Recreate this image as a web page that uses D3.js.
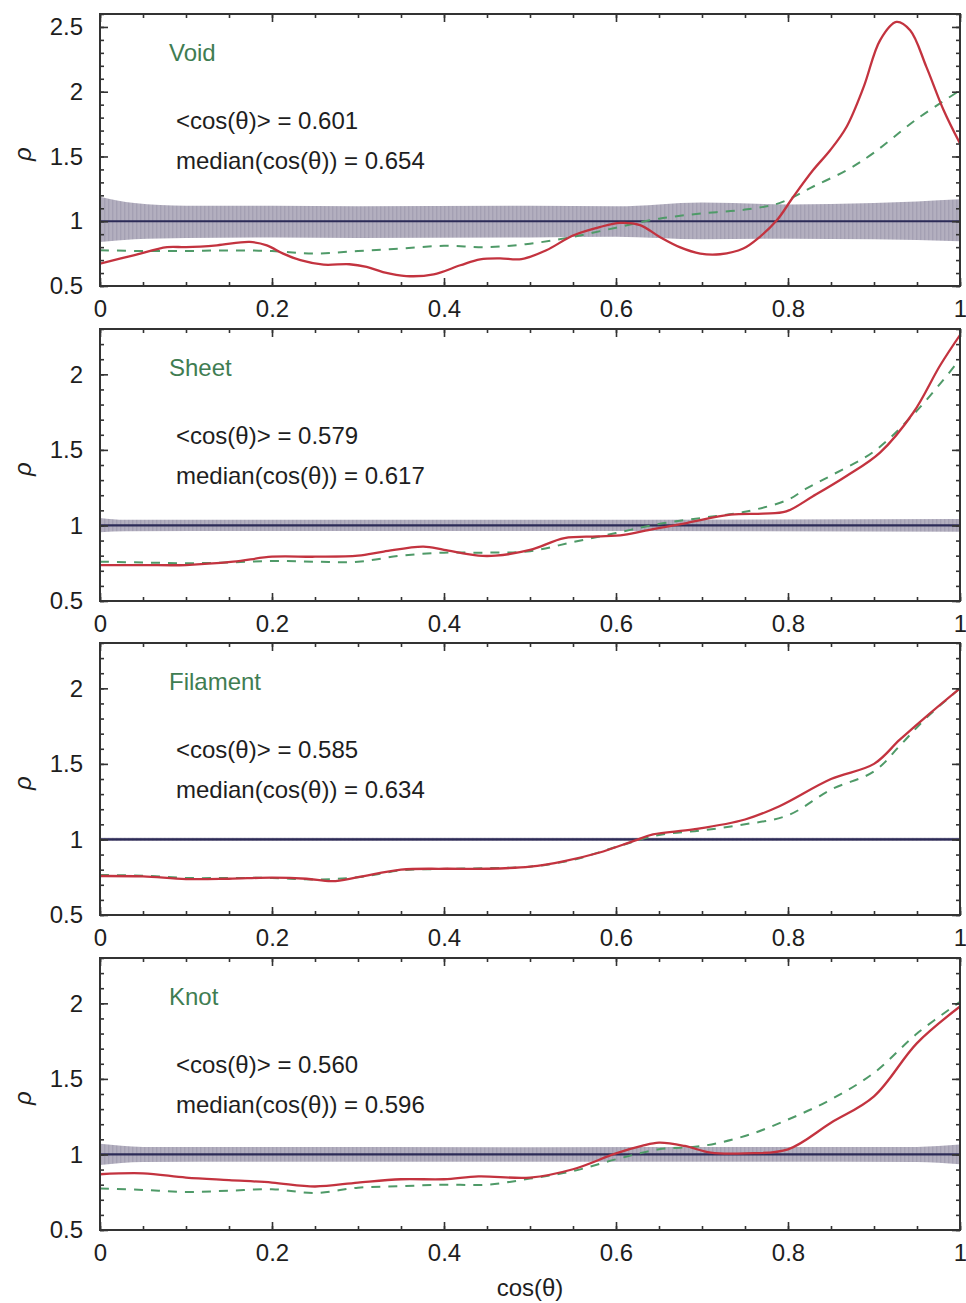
<!DOCTYPE html>
<html>
<head>
<meta charset="utf-8">
<script src="https://cdn.jsdelivr.net/npm/d3@7"></script>
<style>
  html, body { margin: 0; padding: 0; background: #fff; }
  svg { display: block; }
  text { font-family: "Liberation Sans", Arial, Helvetica, sans-serif; }
</style>
</head>
<body>
<svg id="chart" width="966" height="1303"></svg>
<script>
// Environment classes and their summary statistics
const envNames = ["Void", "Sheet", "Filament", "Knot"];
const meanCos = ["0.601", "0.579", "0.585", "0.560"];
const medianCos = ["0.654", "0.617", "0.634", "0.596"];
const yMax = [2.6, 2.3, 2.3, 2.3];
const yTickVals = [[0.5, 1, 1.5, 2, 2.5], [0.5, 1, 1.5, 2], [0.5, 1, 1.5, 2], [0.5, 1, 1.5, 2]];
const xTickVals = [0, 0.2, 0.4, 0.6, 0.8, 1];

// Measured distribution (solid) per environment: [cos(theta), rho]
const voidObs = [[0,0.673],[0.039,0.737],[0.078,0.80],[0.1,0.80],[0.136,0.814],[0.174,0.84],[0.194,0.814],[0.213,0.75],[0.233,0.70],[0.26,0.665],[0.29,0.668],[0.31,0.647],[0.329,0.608],[0.356,0.577],[0.388,0.59],[0.419,0.66],[0.442,0.706],[0.465,0.714],[0.49,0.708],[0.519,0.776],[0.55,0.89],[0.581,0.955],[0.605,0.987],[0.628,0.97],[0.651,0.878],[0.674,0.80],[0.698,0.75],[0.721,0.745],[0.748,0.789],[0.767,0.878],[0.787,1.007],[0.806,1.187],[0.829,1.393],[0.849,1.548],[0.868,1.728],[0.888,2.037],[0.907,2.397],[0.926,2.539],[0.942,2.475],[0.961,2.19],[0.981,1.857],[1.0,1.60]];
const sheetObs = [[0,0.738],[0.05,0.738],[0.1,0.738],[0.155,0.76],[0.2,0.793],[0.25,0.793],[0.3,0.80],[0.33,0.827],[0.376,0.86],[0.4,0.838],[0.44,0.80],[0.46,0.80],[0.5,0.838],[0.54,0.916],[0.578,0.927],[0.609,0.938],[0.643,0.976],[0.682,1.016],[0.733,1.071],[0.771,1.078],[0.798,1.093],[0.829,1.193],[0.868,1.327],[0.907,1.482],[0.946,1.749],[0.977,2.06],[1.0,2.26]];
const filamentObs = [[0,0.758],[0.05,0.755],[0.1,0.738],[0.15,0.74],[0.2,0.747],[0.24,0.74],[0.27,0.724],[0.3,0.75],[0.35,0.80],[0.4,0.806],[0.45,0.806],[0.5,0.82],[0.54,0.857],[0.58,0.912],[0.62,0.989],[0.643,1.033],[0.69,1.066],[0.75,1.132],[0.79,1.22],[0.85,1.40],[0.9,1.50],[0.93,1.66],[0.96,1.81],[1.0,2.0]];
const knotObs = [[0,0.869],[0.05,0.875],[0.1,0.847],[0.15,0.83],[0.2,0.814],[0.25,0.788],[0.3,0.814],[0.35,0.836],[0.4,0.836],[0.44,0.855],[0.5,0.847],[0.55,0.902],[0.6,1.007],[0.63,1.056],[0.65,1.078],[0.68,1.056],[0.71,1.012],[0.75,1.007],[0.8,1.034],[0.85,1.21],[0.9,1.385],[0.95,1.737],[1.0,1.979]];

// Reference distribution (dashed) per environment
const voidRef = [[0,0.776],[0.05,0.77],[0.1,0.77],[0.15,0.775],[0.2,0.77],[0.25,0.75],[0.3,0.77],[0.35,0.79],[0.4,0.81],[0.45,0.80],[0.5,0.827],[0.55,0.88],[0.6,0.95],[0.65,1.02],[0.7,1.06],[0.75,1.09],[0.79,1.14],[0.83,1.27],[0.87,1.40],[0.9,1.53],[0.95,1.79],[1.0,2.01]];
const sheetRef = [[0,0.76],[0.05,0.755],[0.1,0.75],[0.15,0.755],[0.2,0.765],[0.25,0.76],[0.3,0.76],[0.35,0.80],[0.4,0.82],[0.45,0.82],[0.5,0.83],[0.55,0.89],[0.6,0.95],[0.65,1.01],[0.7,1.05],[0.75,1.09],[0.8,1.17],[0.82,1.24],[0.85,1.33],[0.9,1.49],[0.95,1.76],[1.0,2.1]];
const filamentRef = [[0,0.765],[0.05,0.76],[0.1,0.745],[0.15,0.745],[0.2,0.745],[0.25,0.735],[0.3,0.75],[0.35,0.795],[0.4,0.805],[0.45,0.81],[0.5,0.82],[0.55,0.865],[0.6,0.95],[0.65,1.03],[0.7,1.06],[0.75,1.10],[0.8,1.16],[0.85,1.33],[0.9,1.45],[0.93,1.62],[0.96,1.80],[1.0,2.0]];
const knotRef = [[0,0.775],[0.05,0.765],[0.1,0.752],[0.15,0.76],[0.2,0.77],[0.25,0.745],[0.3,0.78],[0.35,0.79],[0.4,0.80],[0.45,0.80],[0.5,0.84],[0.55,0.89],[0.6,0.968],[0.65,1.034],[0.7,1.056],[0.75,1.122],[0.8,1.231],[0.85,1.364],[0.9,1.54],[0.95,1.80],[1.0,2.01]];

// Random-orientation uncertainty band: [cos(theta), low, high]
const voidBand = [[0,0.84,1.19],[0.04,0.86,1.14],[0.1,0.87,1.12],[0.2,0.875,1.12],[0.3,0.87,1.115],[0.5,0.875,1.12],[0.6,0.88,1.115],[0.7,0.86,1.145],[0.8,0.865,1.13],[0.9,0.86,1.14],[1,0.845,1.17]];
const sheetBand = [[0,0.955,1.05],[0.03,0.962,1.038],[0.5,0.963,1.037],[1,0.958,1.042]];
const filamentBand = [[0,0.99,1.012],[1,0.99,1.012]];
const knotBand = [[0,0.93,1.07],[0.05,0.95,1.05],[0.5,0.952,1.048],[0.95,0.95,1.05],[1,0.935,1.065]];

const obsSeries = [voidObs, sheetObs, filamentObs, knotObs];
const refSeries = [voidRef, sheetRef, filamentRef, knotRef];
const bandSeries = [voidBand, sheetBand, filamentBand, knotBand];

const svg = d3.select("#chart");
const left = 100, right = 960, panelH = 272;
const panelTops = [14, 329, 643, 958];

const defs = svg.append("defs");
const pat = defs.append("pattern")
  .attr("id", "bandHatch").attr("patternUnits", "userSpaceOnUse")
  .attr("width", 4).attr("height", 10);
pat.append("rect").attr("width", 4).attr("height", 10).attr("fill", "#b3afbf");
pat.append("rect").attr("width", 1.4).attr("height", 10).attr("fill", "#a4a0b3");

const x = d3.scaleLinear().domain([0, 1]).range([left, right]);
const fmt = d => d3.format("")(d);

envNames.forEach((name, i) => {
  const top = panelTops[i], bottom = top + panelH;
  const y = d3.scaleLinear().domain([0.5, yMax[i]]).range([bottom, top]);
  const g = svg.append("g");

  defs.append("clipPath").attr("id", "clip" + i)
    .append("rect").attr("x", left).attr("y", top).attr("width", right - left).attr("height", panelH);
  const plot = g.append("g").attr("clip-path", `url(#clip${i})`);

  // uncertainty band
  plot.append("path")
    .datum(bandSeries[i])
    .attr("fill", "url(#bandHatch)")
    .attr("d", d3.area().x(d => x(d[0])).y0(d => y(d[1])).y1(d => y(d[2])).curve(d3.curveMonotoneX));

  // isotropic reference level
  plot.append("path")
    .datum([[0, 1], [1, 1]])
    .attr("fill", "none").attr("stroke", "#2c2b57").attr("stroke-width", 2.2)
    .attr("d", d3.line().x(d => x(d[0])).y(d => y(d[1])));

  // dashed reference curve
  plot.append("path")
    .datum(refSeries[i])
    .attr("fill", "none").attr("stroke", "#4f9a68").attr("stroke-width", 2)
    .attr("stroke-dasharray", "9,8")
    .attr("d", d3.line().x(d => x(d[0])).y(d => y(d[1])).curve(d3.curveCatmullRom));

  // measured curve
  plot.append("path")
    .datum(obsSeries[i])
    .attr("fill", "none").attr("stroke", "#c3333f").attr("stroke-width", 2.3)
    .attr("d", d3.line().x(d => x(d[0])).y(d => y(d[1])).curve(d3.curveCatmullRom));

  // axes: inward ticks on all sides
  const minorX = d3.range(0, 1.0001, 0.05);
  const minorY = d3.range(0.5, yMax[i] + 1e-6, 0.1);
  const styleAxis = sel => {
    sel.select(".domain").remove();
    sel.selectAll("line").attr("stroke", "#333").attr("stroke-width", 1.6);
    sel.selectAll("text").attr("fill", "#1e1e1e").style("font-size", "24px");
  };

  g.append("g").attr("transform", `translate(0,${bottom})`)
    .call(d3.axisBottom(x).tickValues(minorX).tickSize(-4).tickFormat(""))
    .call(styleAxis);
  g.append("g").attr("transform", `translate(0,${bottom})`)
    .call(d3.axisBottom(x).tickValues(xTickVals).tickSize(-8).tickPadding(14).tickFormat(fmt))
    .call(styleAxis);
  g.append("g").attr("transform", `translate(0,${top})`)
    .call(d3.axisTop(x).tickValues(minorX).tickSize(-4).tickFormat(""))
    .call(styleAxis);
  g.append("g").attr("transform", `translate(0,${top})`)
    .call(d3.axisTop(x).tickValues(xTickVals).tickSize(-8).tickFormat(""))
    .call(styleAxis);

  g.append("g").attr("transform", `translate(${left},0)`)
    .call(d3.axisLeft(y).tickValues(minorY).tickSize(-4).tickFormat(""))
    .call(styleAxis);
  g.append("g").attr("transform", `translate(${left},0)`)
    .call(d3.axisLeft(y).tickValues(yTickVals[i]).tickSize(-8).tickPadding(17).tickFormat(fmt))
    .call(styleAxis);
  g.append("g").attr("transform", `translate(${right},0)`)
    .call(d3.axisRight(y).tickValues(minorY).tickSize(-4).tickFormat(""))
    .call(styleAxis);
  g.append("g").attr("transform", `translate(${right},0)`)
    .call(d3.axisRight(y).tickValues(yTickVals[i]).tickSize(-8).tickFormat(""))
    .call(styleAxis);

  // frame
  g.append("rect")
    .attr("x", left).attr("y", top).attr("width", right - left).attr("height", panelH)
    .attr("fill", "none").attr("stroke", "#333").attr("stroke-width", 2);

  // labels
  g.append("text").attr("x", 169).attr("y", top + 47)
    .attr("fill", "#3f7d52").style("font-size", "24px").text(name);
  g.append("text").attr("x", 176).attr("y", top + 115)
    .attr("fill", "#1e1e1e").style("font-size", "24px").text(`<cos(θ)> = ${meanCos[i]}`);
  g.append("text").attr("x", 176).attr("y", top + 155)
    .attr("fill", "#1e1e1e").style("font-size", "24px").text(`median(cos(θ)) = ${medianCos[i]}`);

  g.append("text")
    .attr("transform", `translate(31,${top + panelH / 2 + 4}) rotate(-90)`)
    .attr("text-anchor", "middle").attr("fill", "#1e1e1e")
    .style("font-size", "24px").style("font-style", "italic").text("ρ");
});

svg.append("text").attr("x", (left + right) / 2).attr("y", 1296)
  .attr("text-anchor", "middle").attr("fill", "#1e1e1e").style("font-size", "24px").text("cos(θ)");
</script>
</body>
</html>
